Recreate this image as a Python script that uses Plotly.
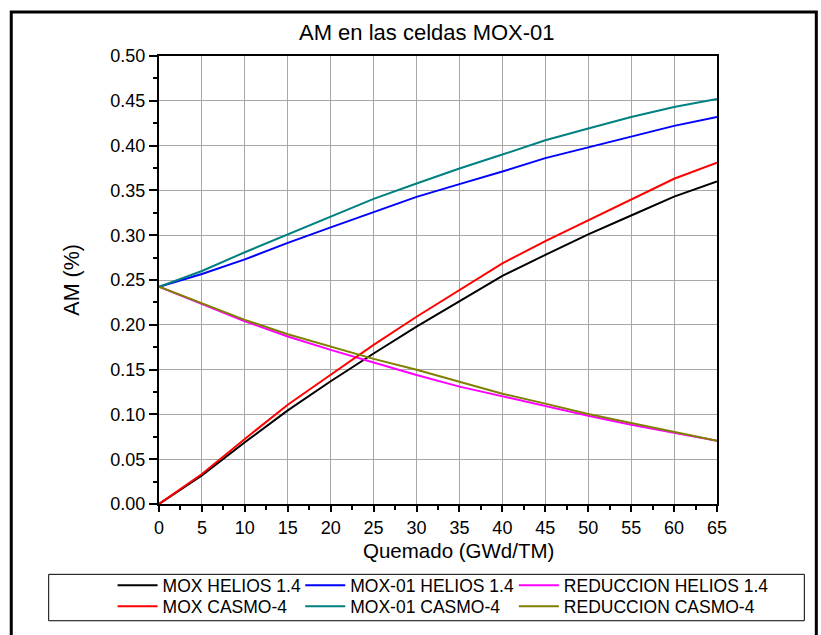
import plotly.graph_objects as go

# ---- data ----
burnup = [0, 5, 10, 15, 20, 25, 30, 35, 40, 45, 50, 55, 60, 65]

mox_helios = [0.0, 0.032, 0.069, 0.1045, 0.137, 0.168, 0.198, 0.226, 0.2545, 0.278, 0.301, 0.322, 0.343, 0.360]
mox01_helios = [0.2425, 0.2567, 0.273, 0.2915, 0.3087, 0.326, 0.3428, 0.357, 0.371, 0.386, 0.398, 0.410, 0.422, 0.432]
reduccion_helios = [0.2425, 0.223, 0.204, 0.187, 0.172, 0.158, 0.144, 0.131, 0.120, 0.109, 0.0985, 0.0885, 0.0793, 0.0707]

mox_casmo = [0.0, 0.0335, 0.0726, 0.1108, 0.1442, 0.1776, 0.209, 0.239, 0.2686, 0.2934, 0.3168, 0.340, 0.363, 0.381]
mox01_casmo = [0.2425, 0.260, 0.281, 0.301, 0.321, 0.3405, 0.3577, 0.3745, 0.390, 0.406, 0.419, 0.432, 0.443, 0.452]
reduccion_casmo = [0.2425, 0.224, 0.2055, 0.1895, 0.1757, 0.162, 0.1498, 0.136, 0.123, 0.112, 0.1004, 0.0904, 0.0804, 0.0707]

series_names = ["MOX HELIOS 1.4", "MOX-01 HELIOS 1.4", "REDUCCION HELIOS 1.4",
                "MOX CASMO-4", "MOX-01 CASMO-4", "REDUCCION CASMO-4"]
series_values = [mox_helios, mox01_helios, reduccion_helios,
                 mox_casmo, mox01_casmo, reduccion_casmo]
series_colors = ["#000000", "#0000ff", "#ff00ff", "#ff0000", "#008080", "#808000"]

title_text = "AM en las celdas MOX-01"
x_title = "Quemado (GWd/TM)"
y_title = "AM (%)"

FONT = "Liberation Sans, Arial, sans-serif"

# plot-area geometry in pixels (used to place frame / annotations / legend entries)
W, H = 821, 635
L, R, T, B = 158.5, 717.5, 55.5, 504.5
PW, PH = R - L, B - T


def px(x):
    return (x - L) / PW


def py(y):
    return (B - y) / PH


# legend entry positions: (left px, top px) — 3 columns x 2 rows
legend_cols = [112, 300, 514]
legend_rows = [568, 589]

fig = go.Figure()
legend_layout = {}
for i, (name, vals, col) in enumerate(zip(series_names, series_values, series_colors)):
    key = "legend" if i == 0 else f"legend{i + 1}"
    fig.add_trace(go.Scatter(x=burnup, y=vals, mode="lines", name=name,
                             line=dict(color=col, width=2), legend=key))
    legend_layout[key] = dict(
        x=px(legend_cols[i % 3]), xanchor="left",
        y=py(legend_rows[i // 3]), yanchor="top",
        itemwidth=40, orientation="h",
        font=dict(family=FONT, size=17.5, color="black"),
        bgcolor="rgba(0,0,0,0)", borderwidth=0,
    )

axis_common = dict(
    showline=True, linecolor="black", linewidth=2, mirror=True,
    ticks="outside", tickwidth=1.5, tickcolor="black",
    showgrid=True, gridcolor="#a8a8a8", gridwidth=1, zeroline=False,
    tickfont=dict(family=FONT, size=18, color="black"),
)

fig.update_xaxes(range=[0, 65], dtick=5, tick0=0, ticklen=6,
                 minor=dict(dtick=2.5, ticks="outside", ticklen=4, tickwidth=1.5,
                            tickcolor="black", showgrid=False),
                 **axis_common)
fig.update_yaxes(range=[0, 0.5], dtick=0.05, tick0=0, tickformat=".2f", ticklen=8,
                 minor=dict(dtick=0.025, ticks="outside", ticklen=4, tickwidth=1.5,
                            tickcolor="black", showgrid=False),
                 **axis_common)

fig.update_layout(
    width=W, height=H,
    margin=dict(l=L, r=W - R, t=T, b=H - B, autoexpand=False),
    paper_bgcolor="white", plot_bgcolor="white",
    font=dict(family=FONT, color="black"),
    showlegend=True,
    shapes=[
        dict(type="rect", xref="paper", yref="paper",
             x0=px(10.5), x1=px(817), y0=py(11.5), y1=py(645),
             line=dict(color="black", width=3), fillcolor="rgba(0,0,0,0)", layer="below"),
        dict(type="rect", xref="paper", yref="paper",
             x0=px(48), x1=px(805), y0=py(575), y1=py(621.5),
             line=dict(color="black", width=1), fillcolor="rgba(0,0,0,0)"),
    ],
    annotations=[
        dict(text=title_text, xref="paper", yref="paper", x=px(427), y=py(32),
             xanchor="center", yanchor="middle", showarrow=False,
             font=dict(family=FONT, size=22, color="black")),
        dict(text=x_title, xref="paper", yref="paper", x=px(459), y=py(551),
             xanchor="center", yanchor="middle", showarrow=False,
             font=dict(family=FONT, size=20.5, color="black")),
        dict(text=y_title, xref="paper", yref="paper", x=px(71), y=py(280),
             xanchor="center", yanchor="middle", showarrow=False, textangle=-90,
             font=dict(family=FONT, size=21.5, color="black")),
    ],
    **legend_layout,
)

fig.write_html("out.html")
